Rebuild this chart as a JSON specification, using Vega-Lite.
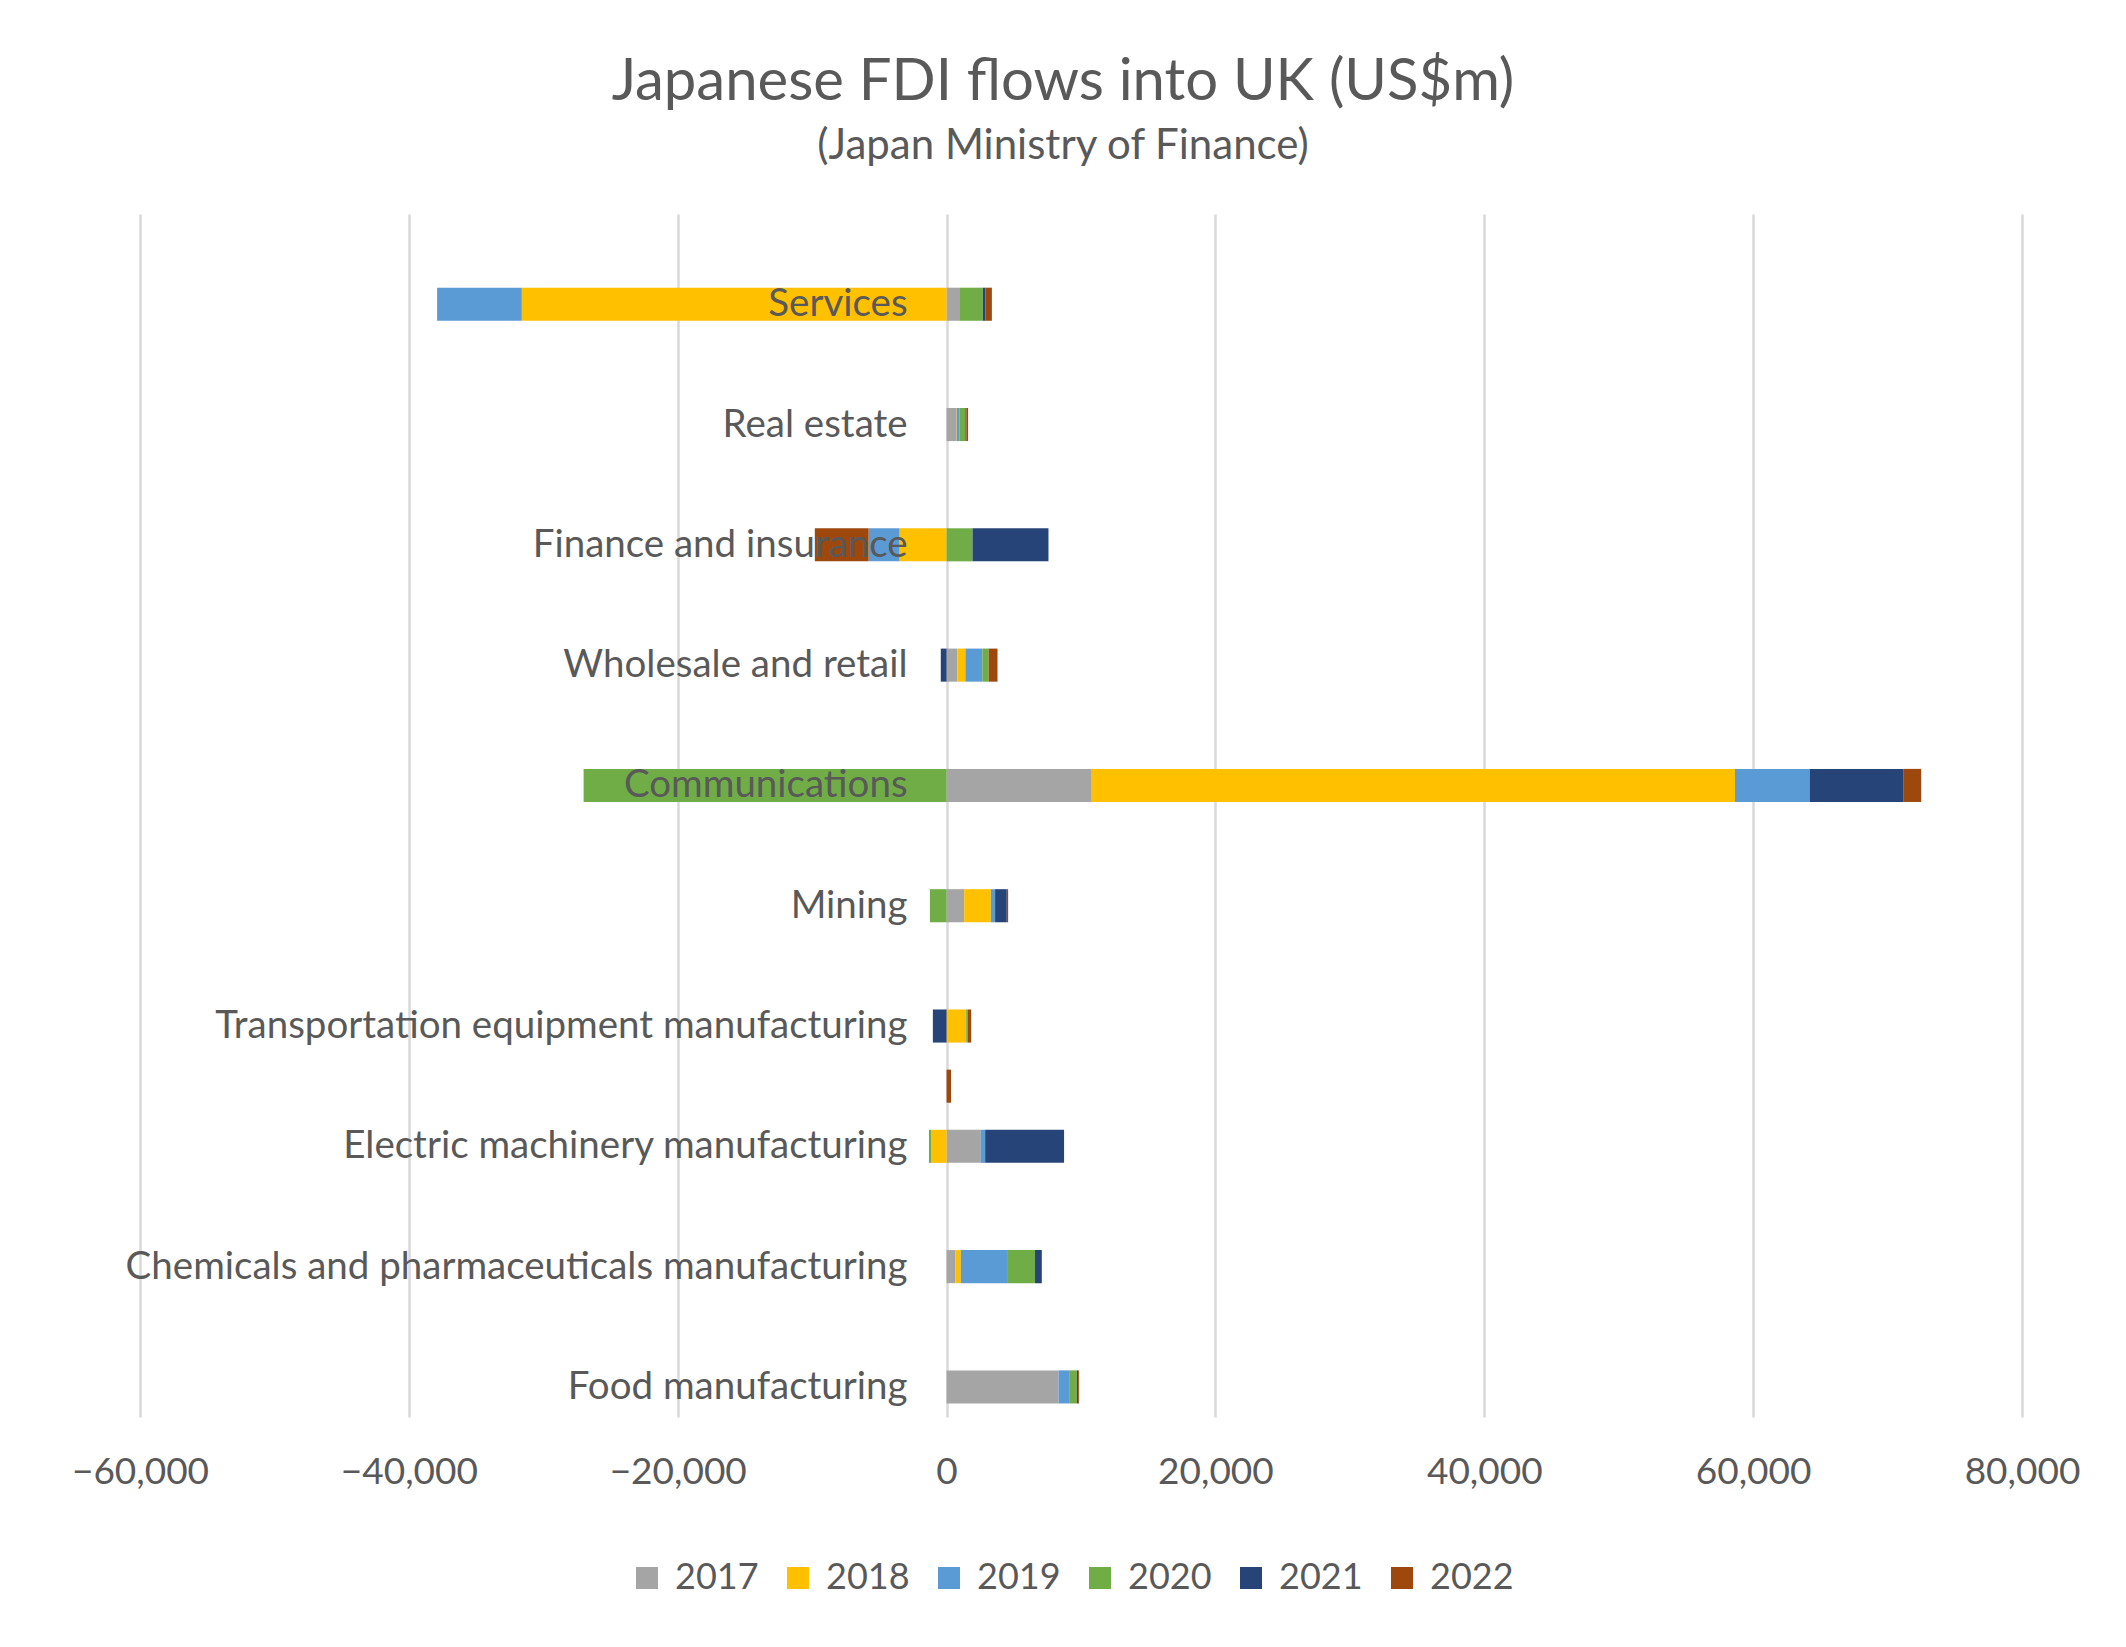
{
  "$schema": "https://vega.github.io/schema/vega-lite/v6.json",
  "width": 1882,
  "height": 1203,
  "autosize": {"type": "none"},
  "padding": {"left": 140, "top": 214, "right": 104, "bottom": 230},
  "background": "white",
  "config": {"view": {"stroke": null}},
  "title": {
    "text": "Japanese FDI flows into UK (US$m)",
    "subtitle": "(Japan Ministry of Finance)",
    "anchor": "middle",
    "dx": -18,
    "offset": 47,
    "font": "Lato",
    "fontSize": 58,
    "fontWeight": "normal",
    "color": "#595959",
    "subtitleFont": "Lato",
    "subtitleFontSize": 42,
    "subtitleColor": "#595959",
    "subtitlePadding": 14
  },
  "datasets": {
    "flows": [
      {"sector": "Services", "year": "2017", "value": 1000},
      {"sector": "Services", "year": "2018", "value": -31600},
      {"sector": "Services", "year": "2019", "value": -6300},
      {"sector": "Services", "year": "2020", "value": 1700},
      {"sector": "Services", "year": "2021", "value": 200},
      {"sector": "Services", "year": "2022", "value": 470},
      {"sector": "Real estate", "year": "2017", "value": 700},
      {"sector": "Real estate", "year": "2018", "value": 50},
      {"sector": "Real estate", "year": "2019", "value": 200},
      {"sector": "Real estate", "year": "2020", "value": 450},
      {"sector": "Real estate", "year": "2021", "value": 70},
      {"sector": "Real estate", "year": "2022", "value": 130},
      {"sector": "Finance and insurance", "year": "2018", "value": -3500},
      {"sector": "Finance and insurance", "year": "2019", "value": -2300},
      {"sector": "Finance and insurance", "year": "2020", "value": 1930},
      {"sector": "Finance and insurance", "year": "2021", "value": 5650},
      {"sector": "Finance and insurance", "year": "2022", "value": -4000},
      {"sector": "Wholesale and retail", "year": "2017", "value": 800},
      {"sector": "Wholesale and retail", "year": "2018", "value": 600},
      {"sector": "Wholesale and retail", "year": "2019", "value": 1260},
      {"sector": "Wholesale and retail", "year": "2020", "value": 470},
      {"sector": "Wholesale and retail", "year": "2021", "value": -430},
      {"sector": "Wholesale and retail", "year": "2022", "value": 660},
      {"sector": "Communications", "year": "2017", "value": 10800},
      {"sector": "Communications", "year": "2018", "value": 47850},
      {"sector": "Communications", "year": "2019", "value": 5550},
      {"sector": "Communications", "year": "2020", "value": -27000},
      {"sector": "Communications", "year": "2021", "value": 7000},
      {"sector": "Communications", "year": "2022", "value": 1300},
      {"sector": "Mining", "year": "2017", "value": 1310},
      {"sector": "Mining", "year": "2018", "value": 1980},
      {"sector": "Mining", "year": "2019", "value": 320},
      {"sector": "Mining", "year": "2020", "value": -1240},
      {"sector": "Mining", "year": "2021", "value": 870},
      {"sector": "Mining", "year": "2022", "value": 100},
      {"sector": "Transportation equipment manufacturing", "year": "2018", "value": 1460},
      {"sector": "Transportation equipment manufacturing", "year": "2020", "value": 120},
      {"sector": "Transportation equipment manufacturing", "year": "2021", "value": -1020},
      {"sector": "Transportation equipment manufacturing", "year": "2022", "value": 250},
      {"sector": "hidden-3", "year": "2022", "value": 330},
      {"sector": "Electric machinery manufacturing", "year": "2017", "value": 2550},
      {"sector": "Electric machinery manufacturing", "year": "2018", "value": -1140},
      {"sector": "Electric machinery manufacturing", "year": "2019", "value": 320},
      {"sector": "Electric machinery manufacturing", "year": "2020", "value": -170},
      {"sector": "Electric machinery manufacturing", "year": "2021", "value": 5870},
      {"sector": "Chemicals and pharmaceuticals manufacturing", "year": "2017", "value": 640},
      {"sector": "Chemicals and pharmaceuticals manufacturing", "year": "2018", "value": 420},
      {"sector": "Chemicals and pharmaceuticals manufacturing", "year": "2019", "value": 3440},
      {"sector": "Chemicals and pharmaceuticals manufacturing", "year": "2020", "value": 2080},
      {"sector": "Chemicals and pharmaceuticals manufacturing", "year": "2021", "value": 450},
      {"sector": "Chemicals and pharmaceuticals manufacturing", "year": "2022", "value": 70},
      {"sector": "Food manufacturing", "year": "2017", "value": 8330},
      {"sector": "Food manufacturing", "year": "2019", "value": 790},
      {"sector": "Food manufacturing", "year": "2020", "value": 570},
      {"sector": "Food manufacturing", "year": "2021", "value": 100},
      {"sector": "Food manufacturing", "year": "2022", "value": 70}
    ],
    "labels": [
      {"sector": "Services"},
      {"sector": "Real estate"},
      {"sector": "Finance and insurance"},
      {"sector": "Wholesale and retail"},
      {"sector": "Communications"},
      {"sector": "Mining"},
      {"sector": "Transportation equipment manufacturing"},
      {"sector": "Electric machinery manufacturing"},
      {"sector": "Chemicals and pharmaceuticals manufacturing"},
      {"sector": "Food manufacturing"}
    ]
  },
  "layer": [
    {
      "data": {"name": "flows"},
      "mark": {"type": "bar"},
      "encoding": {
        "y": {
          "field": "sector",
          "type": "nominal",
          "sort": null,
          "scale": {
            "domain": ["hidden-10", "Services", "hidden-9", "Real estate", "hidden-8", "Finance and insurance", "hidden-7", "Wholesale and retail", "hidden-6", "Communications", "hidden-5", "Mining", "hidden-4", "Transportation equipment manufacturing", "hidden-3", "Electric machinery manufacturing", "hidden-2", "Chemicals and pharmaceuticals manufacturing", "hidden-1", "Food manufacturing"],
            "paddingInner": 0.45,
            "paddingOuter": 0.225
          },
          "axis": null
        },
        "x": {
          "field": "value",
          "type": "quantitative",
          "stack": "zero",
          "scale": {"domain": [-60000, 80000], "nice": false, "zero": false},
          "axis": {
            "values": [-60000, -40000, -20000, 0, 20000, 40000, 60000, 80000],
            "format": ",.0f",
            "title": null,
            "grid": true,
            "gridColor": "#D9D9D9",
            "gridWidth": 2.5,
            "ticks": false,
            "domain": false,
            "labelFlush": false,
            "labelOverlap": false,
            "labelFont": "Lato",
            "labelFontSize": 37,
            "labelColor": "#595959",
            "labelPadding": 37
          }
        },
        "color": {
          "field": "year",
          "type": "nominal",
          "scale": {
            "domain": ["2017", "2018", "2019", "2020", "2021", "2022"],
            "range": ["#A5A5A5", "#FFC000", "#5B9BD5", "#70AD47", "#264478", "#9E480E"]
          },
          "legend": {
            "orient": "none",
            "legendX": 489,
            "legendY": 1346,
            "direction": "horizontal",
            "title": null,
            "symbolType": "square",
            "symbolSize": 484,
            "symbolStrokeWidth": 0,
            "labelFont": "Lato",
            "labelFontSize": 36,
            "labelColor": "#595959",
            "labelOffset": 10,
            "columnPadding": 21
          }
        },
        "order": {"field": "year", "type": "ordinal", "sort": "ascending"}
      }
    },
    {
      "data": {"name": "labels"},
      "mark": {"type": "text", "align": "right", "baseline": "middle", "dx": -39, "font": "Lato", "fontSize": 38.5, "color": "#595959"},
      "encoding": {
        "y": {"field": "sector", "type": "nominal", "sort": null},
        "x": {"datum": 0},
        "text": {"field": "sector"}
      }
    }
  ]
}
